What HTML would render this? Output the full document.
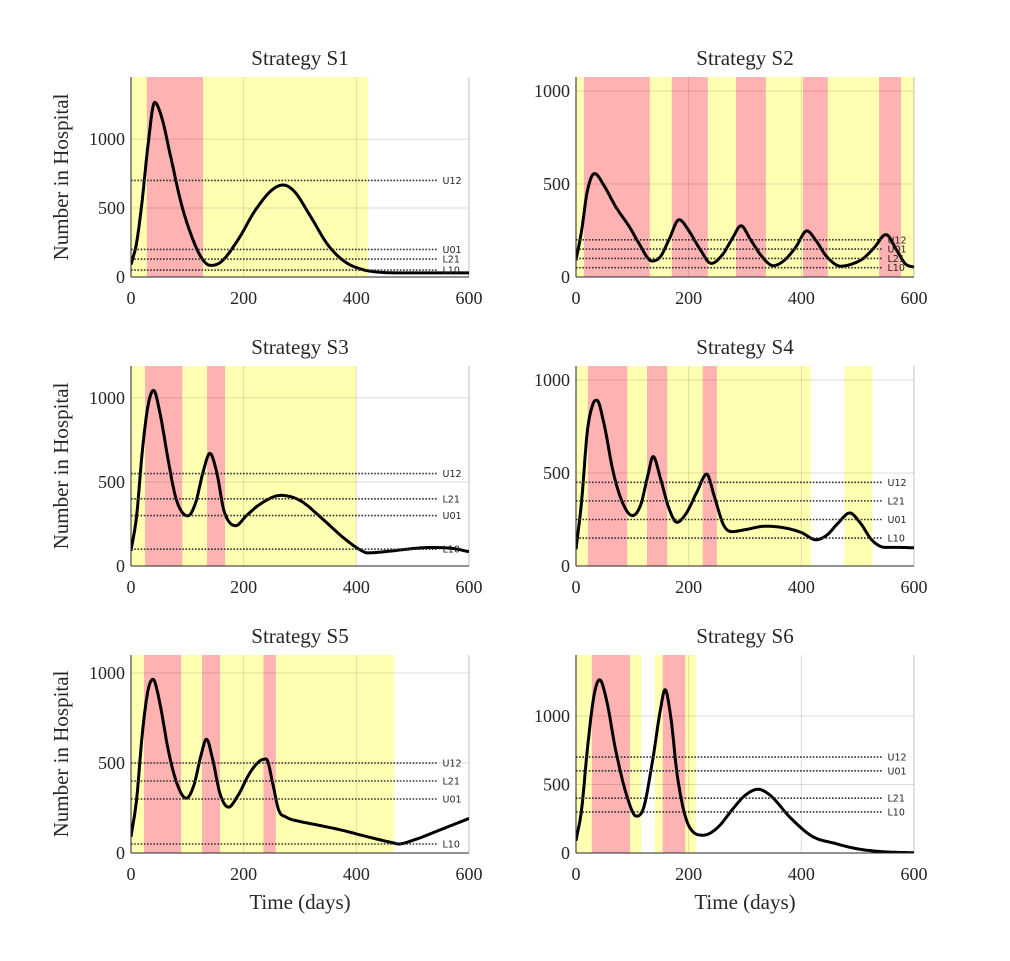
<!DOCTYPE html>
<html><head><meta charset="utf-8"><style>
body{margin:0;background:#fff}
svg{display:block}
text{font-family:"Liberation Serif",serif;fill:#262626}
.thl{font-family:"DejaVu Sans","Liberation Sans",sans-serif;font-size:9.5px}
</style></head><body>
<svg id="fig" width="1010" height="961" viewBox="0 0 1010 961"></svg>
<script>
const titles=["Strategy S1","Strategy S2","Strategy S3","Strategy S4","Strategy S5","Strategy S6"];
const yMax=[1450,1075,1190,1075,1100,1445];
const yTicks=[[0,500,1000],[0,500,1000],[0,500,1000],[0,500,1000],[0,500,1000],[0,500,1000]];
const xTicks=[0,200,400,600];
const yellowSpans=[[[0,421]],[[0,600]],[[0,400]],[[0,417],[476,526]],[[0,467]],[[0,116],[140,213]]];
const redSpans=[[[28,128]],[[14,131],[170,234],[284,337],[403,447],[538,577]],[[25,91],[135,167]],[[21,91],[126,162],[225,250]],[[23,89],[126,158],[235,257]],[[28,96],[154,194]]];
const thrValues=[[700,200,130,50],[200,150,100,50],[550,400,300,100],[450,350,250,150],[500,400,300,50],[700,600,400,300]];
const thrLabels=[["U12","U01","L21","L10"],["U12","U01","L21","L10"],["U12","L21","U01","L10"],["U12","L21","U01","L10"],["U12","L21","U01","L10"],["U12","U01","L21","L10"]];
const curveDays=[
[0,10,20,30,42,55,70,90,110,125,141,160,190,220,250,270,290,320,350,380,410,433,470,520,600],
[0,10,20,33,50,70,96,110,135,150,165,183,200,220,240,260,278,293,310,330,350,370,390,410,425,445,470,490,510,530,550,570,585,600],
[0,10,20,30,40,52,65,80,101,115,128,140,152,165,186,205,230,266,300,340,380,410,420,450,490,530,570,600],
[0,10,20,30,37,50,65,80,100,115,127,137,150,165,179,195,215,232,245,262,277,300,336,370,400,426,445,465,486,505,525,549,570,600],
[0,10,20,30,39,52,65,80,98,112,124,134,145,158,173,190,210,228,240,252,262,275,300,324,370,420,467,475,500,550,600],
[0,10,20,32,42,55,70,90,107,120,135,150,158,168,180,200,226,250,280,300,323,345,380,420,458,500,550,600]];
const curveVals=[
[90,250,560,950,1266,1150,880,520,270,140,84,110,270,480,630,667,620,430,230,110,55,38,30,30,30],
[90,250,460,556,490,380,264,190,86,110,200,308,250,150,73,120,210,275,200,110,61,90,160,248,200,110,58,70,100,160,228,140,70,53],
[90,300,680,950,1045,900,650,400,298,380,560,670,560,330,240,300,370,420,390,280,160,90,78,85,100,110,105,85],
[90,350,720,870,891,760,520,360,271,330,480,588,470,310,235,280,400,494,380,220,185,195,214,205,180,141,165,230,285,230,140,100,100,98],
[90,300,660,900,965,820,590,400,304,380,540,632,520,330,255,320,440,510,522,380,240,200,175,160,130,90,55,50,70,130,192],
[90,320,750,1150,1264,1100,760,420,269,330,650,1050,1192,1000,560,200,130,180,330,420,465,420,260,120,72,30,8,2]];

const NS="http://www.w3.org/2000/svg";
const svg=document.getElementById('fig');
function mk(tag,attrs,parent){const e=document.createElementNS(NS,tag);for(const k in attrs)e.setAttribute(k,attrs[k]);(parent||svg).appendChild(e);return e;}
const colX=[131,576], rowY=[[77,277],[366,566],[655,853]], W=338;

function monotone(xs,ys,n){
  const m=xs.length,d=[],t=[];
  for(let i=0;i<m-1;i++)d.push((ys[i+1]-ys[i])/(xs[i+1]-xs[i]));
  t[0]=d[0];t[m-1]=d[m-2];
  for(let i=1;i<m-1;i++){t[i]=(d[i-1]*d[i]<=0)?0:(d[i-1]+d[i])/2;}
  for(let i=0;i<m-1;i++){if(d[i]===0){t[i]=0;t[i+1]=0;continue;}
    const a=t[i]/d[i],b=t[i+1]/d[i],s=a*a+b*b;if(s>9){const tt=3/Math.sqrt(s);t[i]=tt*a*d[i];t[i+1]=tt*b*d[i];}}
  const out=[];
  for(let i=0;i<m-1;i++){const h=xs[i+1]-xs[i];
    for(let k=0;k<n;k++){const u=k/n,h00=2*u*u*u-3*u*u+1,h10=u*u*u-2*u*u+u,h01=-2*u*u*u+3*u*u,h11=u*u*u-u*u;
      out.push([xs[i]+u*h,h00*ys[i]+h10*h*t[i]+h01*ys[i+1]+h11*h*t[i+1]]);}}
  out.push([xs[m-1],ys[m-1]]);return out;}

for(let p=0;p<6;p++){
  const x0=colX[p%2],[top,bot]=rowY[Math.floor(p/2)];
  const g=mk('g',{});
  
  
  const sx=d=>x0+d/600*W, sy=v=>bot-v/yMax[p]*(bot-top);
  const clip=mk('clipPath',{id:'c'+p},g);mk('rect',{x:x0,y:top,width:W,height:bot-top},clip);
  const pg=mk('g',{'clip-path':'url(#c'+p+')'},g);
  yellowSpans[p].forEach(s=>{const r=mk('rect',{x:sx(s[0]),y:top,width:sx(s[1])-sx(s[0]),height:bot-top,fill:'#ffffb2'},pg);
    });
  redSpans[p].forEach(s=>{const r=mk('rect',{x:sx(s[0]),y:top,width:sx(s[1])-sx(s[0]),height:bot-top,fill:'#ffb2b2'},pg);
    });
  xTicks.forEach(t=>{mk('line',{x1:sx(t),x2:sx(t),y1:top,y2:bot,stroke:'#000','stroke-opacity':0.13,'stroke-width':1},g);
    const tx=mk('text',{x:sx(t),y:bot+27,'font-size':18,'text-anchor':'middle'},g);tx.textContent=t;
    });
  yTicks[p].forEach(t=>{mk('line',{x1:x0,x2:x0+W,y1:sy(t),y2:sy(t),stroke:'#000','stroke-opacity':0.13,'stroke-width':1},g);
    const tx=mk('text',{x:x0-6,y:sy(t)+6,'font-size':18,'text-anchor':'end'},g);tx.textContent=t;
    });
  thrValues[p].forEach((v,i)=>{const l=mk('line',{x1:x0,x2:sx(545),y1:sy(v),y2:sy(v),stroke:'#333','stroke-width':1.6,'stroke-dasharray':'1.6 1.6'},g);
    
    const tx=mk('text',{x:sx(553),y:sy(v)+3.5,class:'thl'},g);tx.textContent=thrLabels[p][i];
    });
  const pts=monotone(curveDays[p],curveVals[p],12);
  const path=mk('path',{d:'M'+pts.map(q=>sx(q[0]).toFixed(1)+','+sy(Math.max(0,q[1])).toFixed(1)).join('L'),fill:'none',stroke:'#000','stroke-width':3,'stroke-linejoin':'round'},pg);
  
  mk('line',{x1:x0,x2:x0,y1:top,y2:bot,stroke:'#262626','stroke-width':1},g);
  mk('line',{x1:x0,x2:x0+W,y1:bot,y2:bot,stroke:'#262626','stroke-width':1},g);
  mk('line',{x1:x0+W,x2:x0+W,y1:top,y2:bot,stroke:'#000','stroke-opacity':0.13,'stroke-width':1},g);
  const ti=mk('text',{x:x0+W/2,y:top-12,'font-size':21,'text-anchor':'middle'},g);ti.textContent=titles[p];
  
  if(p%2===0){const yl=mk('text',{x:0,y:0,'font-size':21,'text-anchor':'middle',transform:`translate(68,${(top+bot)/2}) rotate(-90)`},g);
    yl.textContent='Number in Hospital';}
  if(p>=4){const xl=mk('text',{x:x0+W/2,y:bot+56,'font-size':21,'text-anchor':'middle'},g);
    xl.textContent='Time (days)';}
}
</script>
</body></html>
